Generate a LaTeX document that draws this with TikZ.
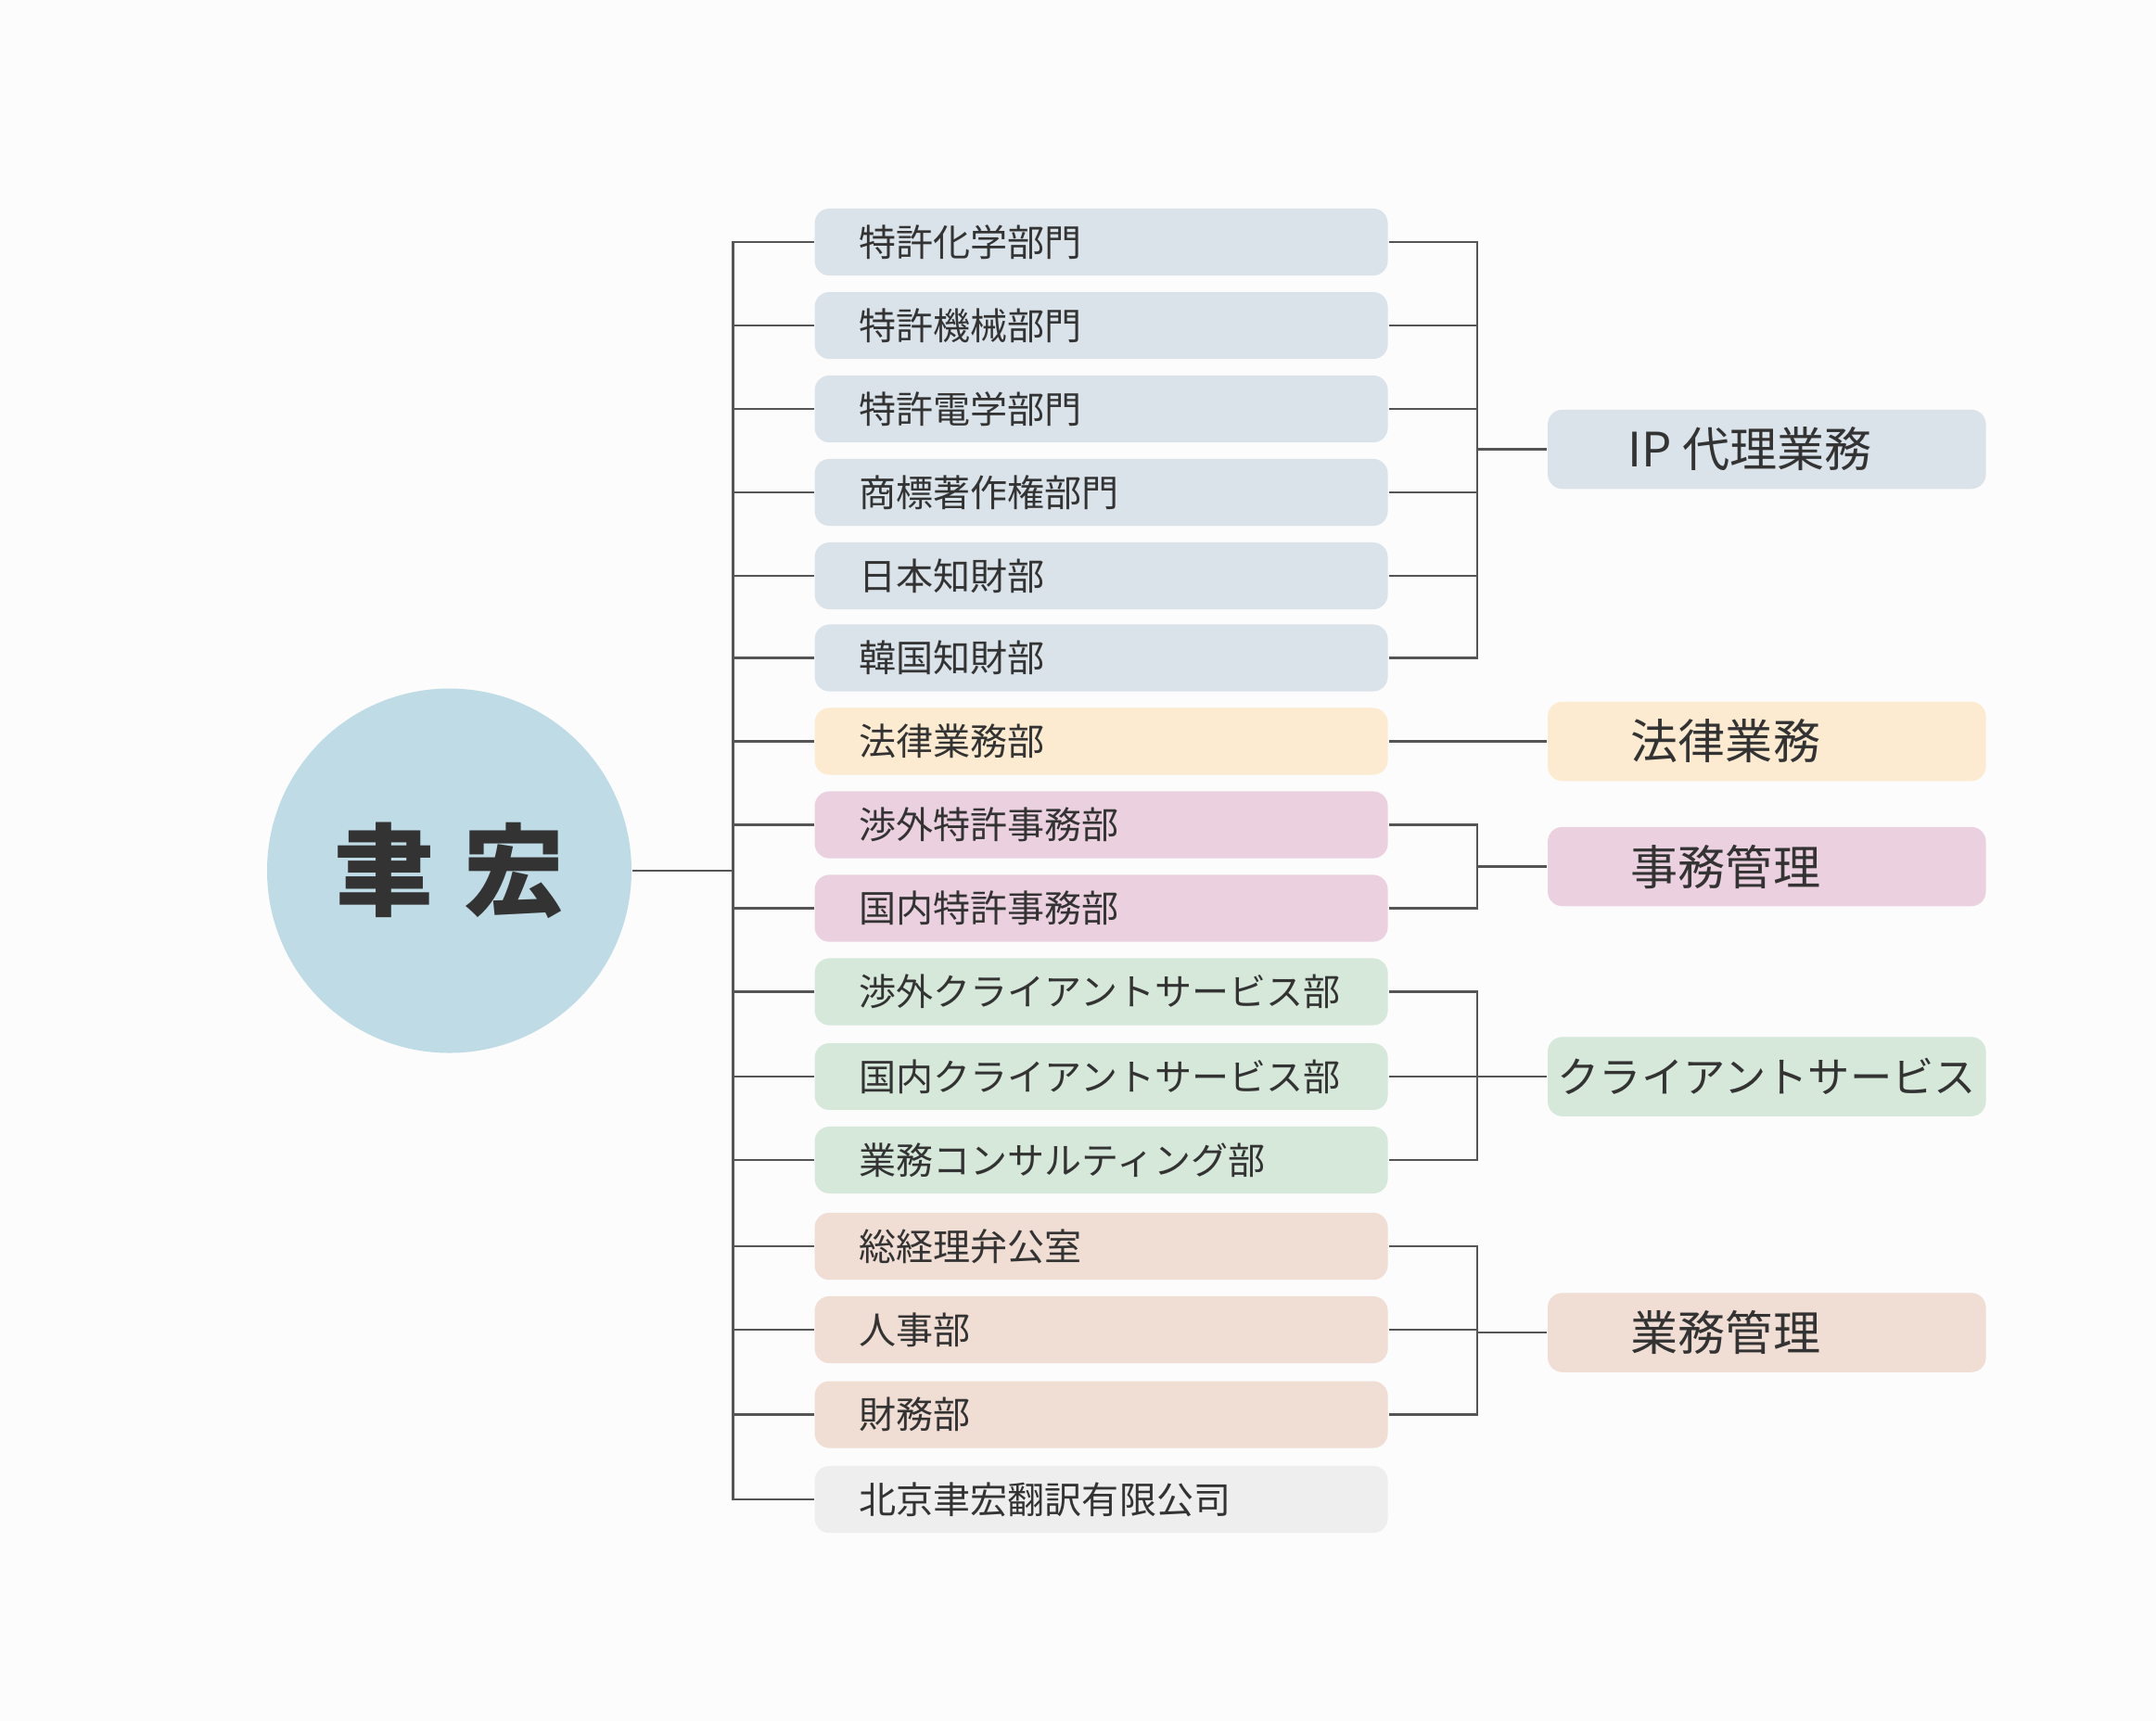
\documentclass[tikz,border=0pt]{standalone}
\usepackage{fontspec}
\setmainfont{Noto Sans CJK JP}
\usetikzlibrary{positioning}
\definecolor{ipblue}{HTML}{DAE3EA}
\definecolor{lawyellow}{HTML}{FCEBD0}
\definecolor{adminpink}{HTML}{EBD1E0}
\definecolor{clientgreen}{HTML}{D5E8DA}
\definecolor{bizpeach}{HTML}{F0DDD3}
\definecolor{subgray}{HTML}{EEEEEE}
\definecolor{rootblue}{HTML}{BFDCE6}
\definecolor{linegray}{HTML}{555555}
\definecolor{inkgray}{HTML}{333333}
\tikzset{
  dept/.style={anchor=west, rounded corners=3pt, inner xsep=0.32cm, text width=3.48cm,
    minimum height=0.48cm, align=left, text=inkgray, font=\fontsize{7.6}{9}\selectfont},
  area/.style={anchor=west, rounded corners=3pt, minimum width=3.15cm, minimum height=0.57cm,
    text=inkgray, font=\fontsize{9.7}{11}\selectfont},
  link/.style={draw=linegray, line width=0.5pt}
}
\begin{document}
\begin{tikzpicture}
\fill[white!99!black] (0,0) rectangle (15.5,-12.37);
\useasboundingbox (0,0) rectangle (15.5,-12.37);
% root
\node[circle, fill=rootblue, minimum size=2.62cm, text=inkgray,
  font=\fontsize{20.5}{22}\bfseries] (root) at (3.23,-6.26) {聿\hspace{0.3em}宏};
\coordinate (trunk) at (5.27,-6.26);
\draw[link] (root.east) -- (trunk);
% departments
\foreach \n/\y/\c/\t in {
  1/1.74/ipblue/特許化学部門, 2/2.34/ipblue/特許機械部門, 3/2.94/ipblue/特許電学部門,
  4/3.54/ipblue/商標著作権部門, 5/4.14/ipblue/日本知財部, 6/4.73/ipblue/韓国知財部,
  7/5.33/lawyellow/法律業務部, 8/5.93/adminpink/渉外特許事務部, 9/6.53/adminpink/国内特許事務部,
  10/7.13/clientgreen/渉外クライアントサービス部, 11/7.74/clientgreen/国内クライアントサービス部,
  12/8.34/clientgreen/業務コンサルティング部, 13/8.96/bizpeach/総経理弁公室,
  14/9.56/bizpeach/人事部, 15/10.17/bizpeach/財務部, 16/10.78/subgray/北京聿宏翻訳有限公司}{
  \node[dept, fill=\c] (d\n) at (5.85,-\y) {\t};
  \draw[link] (trunk) |- (d\n.west);
}
% business areas
\foreach \n/\y/\c in {1/3.23/ipblue, 2/5.33/lawyellow, 3/6.23/adminpink,
  4/7.74/clientgreen, 5/9.58/bizpeach}{
  \node[area, fill=\c] (a\n) at (11.12,-\y) {};
  \coordinate (g\n) at (10.62,-\y);
  \draw[link] (g\n) -- (a\n.west);
}
\node[anchor=west, text=inkgray, font=\fontsize{9.7}{11}\selectfont] at (11.58,-3.23) {IP 代理業務};
\node[anchor=west, text=inkgray, font=\fontsize{9.7}{11}\selectfont] at (11.6,-5.33) {法律業務};
\node[anchor=west, text=inkgray, font=\fontsize{9.7}{11}\selectfont] at (11.6,-6.23) {事務管理};
\node[text=inkgray, font=\fontsize{8.6}{10}\selectfont] at (a4) {クライアントサービス};
\node[anchor=west, text=inkgray, font=\fontsize{9.7}{11}\selectfont] at (11.6,-9.58) {業務管理};
\foreach \n in {1,...,6}{\draw[link] (d\n.east) -| (g1);}
\draw[link] (d7.east) -- (g2);
\foreach \n in {8,9}{\draw[link] (d\n.east) -| (g3);}
\foreach \n in {10,11,12}{\draw[link] (d\n.east) -| (g4);}
\foreach \n in {13,14,15}{\draw[link] (d\n.east) -| (g5);}
\end{tikzpicture}
\end{document}
